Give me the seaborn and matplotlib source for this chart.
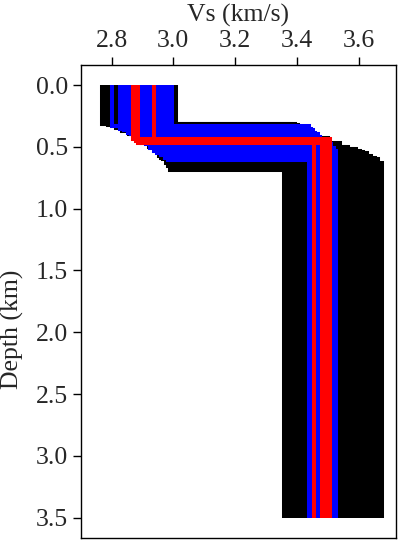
import matplotlib
matplotlib.use("Agg")
import matplotlib.pyplot as plt
import seaborn as sns
import pandas as pd

# ---- data: two-layer Vs models (top-layer Vs, interface depth, half-space Vs) ----
max_depth = 3.5

black_vs1 = [2.770, 3.010, 2.780, 2.790, 2.813, 2.835, 2.858, 2.870, 2.900, 2.920, 2.930,
             2.940, 2.945, 2.950, 2.950, 2.952, 2.955, 2.960, 2.965, 2.975, 2.982, 2.990]
black_h = [0.313, 0.313, 0.318, 0.325, 0.345, 0.370, 0.400, 0.430, 0.470, 0.500, 0.500,
           0.520, 0.520, 0.535, 0.545, 0.550, 0.575, 0.590, 0.600, 0.630, 0.655, 0.685]
black_vs2 = [3.380, 3.370, 3.393, 3.405, 3.418, 3.430, 3.440, 3.500, 3.540, 3.553, 3.565,
             3.578, 3.590, 3.603, 3.615, 3.627, 3.640, 3.652, 3.664, 3.675, 3.360, 3.365]

blue_vs1 = [2.800, 2.828, 2.840, 2.852, 2.864, 2.876, 2.888, 2.900, 2.912, 2.924, 2.936,
            2.948, 2.960, 2.972, 2.984, 2.996]
blue_h = [0.335, 0.353, 0.365, 0.385, 0.400, 0.420, 0.450, 0.470, 0.480, 0.510, 0.530,
          0.550, 0.570, 0.590, 0.604, 0.500]
blue_vs2 = [3.440, 3.446, 3.452, 3.460, 3.468, 3.476, 3.488, 3.500, 3.512, 3.520, 3.528,
            3.520, 3.500, 3.480, 3.460, 3.470]

red_vs1 = [2.871, 2.879, 2.887, 2.939]
red_h = [0.434, 0.450, 0.469, 0.440]
red_vs2 = [3.507, 3.494, 3.480, 3.457]

xticks = [2.8, 3.0, 3.2, 3.4, 3.6]
yticks = [0.0, 0.5, 1.0, 1.5, 2.0, 2.5, 3.0, 3.5]


def profiles(vs1, h, vs2, tag):
    rows = []
    for i, (a, d, b) in enumerate(zip(vs1, h, vs2)):
        mid = f"{tag}{i}"
        for k, (x, y) in enumerate([(a, 0.0), (a, d), (b, d), (b, max_depth)]):
            rows.append({"model": mid, "order": k, "vs": x, "depth": y})
    return pd.DataFrame(rows)


sns.set_style("ticks")
plt.rcParams["font.family"] = ["Liberation Serif", "DejaVu Serif"]

fig = plt.figure(figsize=(4.01, 5.43), dpi=100)
ax = fig.add_axes([0.2012, 0.0092, 0.7855, 0.8716])

lw = 2.9
for z, (vs1, h, vs2, tag, col) in enumerate([(black_vs1, black_h, black_vs2, "k", "#000000"),
                                             (blue_vs1, blue_h, blue_vs2, "b", "#0000ff"),
                                             (red_vs1, red_h, red_vs2, "r", "#ff0000")]):
    df = profiles(vs1, h, vs2, tag)
    sns.lineplot(data=df, x="vs", y="depth", units="model", estimator=None,
                 sort=False, color=col, lw=lw, ax=ax, legend=False, zorder=2 + z,
                 solid_capstyle="butt", solid_joinstyle="miter")

ax.set_xlim(2.70, 3.72)
ax.set_ylim(3.664, -0.164)
ax.xaxis.tick_top()
ax.xaxis.set_label_position("top")
ax.set_xticks(xticks)
ax.set_xticklabels([f"{v:.1f}" for v in xticks])
ax.set_yticks(yticks)
ax.set_yticklabels([f"{v:.1f}" for v in yticks])
ax.set_xlabel("Vs (km/s)", fontsize=18.5, labelpad=6.5)
ax.set_ylabel("Depth (km)", fontsize=18.5)
ax.yaxis.set_label_coords(-0.18, 0.44)
ax.tick_params(axis="both", labelsize=18.5, length=6, width=1.0, color="black", pad=3)
for s in ax.spines.values():
    s.set_visible(True)
    s.set_color("black")
    s.set_linewidth(1.0)
    s.set_zorder(10)

fig.savefig("out.png", dpi=100)
